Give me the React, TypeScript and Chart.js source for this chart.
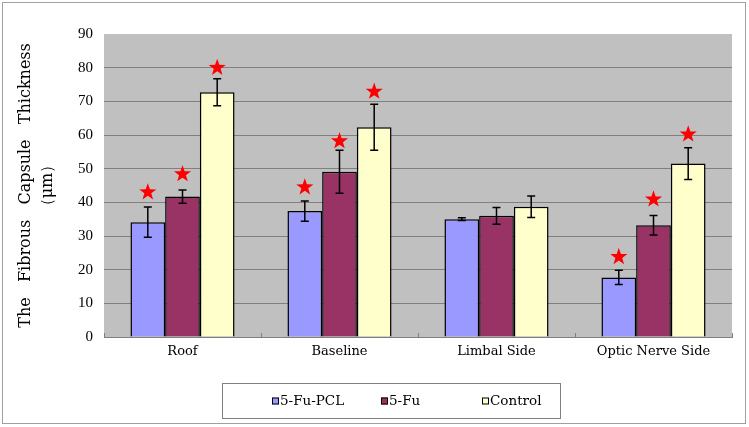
import React, { useEffect, useRef } from 'react';
import { Chart, registerables } from 'chart.js';

Chart.register(...registerables);

const categories = ['Roof', 'Baseline', 'Limbal Side', 'Optic Nerve Side'];
const seriesNames = ['5-Fu-PCL', '5-Fu', 'Control'];
const pclMeans = [34.1, 37.4, 35.0, 17.7];
const pclErrors = [4.5, 3.0, 0.4, 2.1];
const fuMeans = [41.7, 49.1, 36.0, 33.2];
const fuErrors = [2.0, 6.4, 2.5, 2.9];
const controlMeans = [72.7, 62.3, 38.7, 51.5];
const controlErrors = [4.0, 6.8, 3.2, 4.7];
const pclStars = [43.0, 44.5, null, 23.8];
const fuStars = [48.4, 58.2, null, 40.9];
const controlStars = [80.0, 72.9, null, 60.2];
const yMin = 0;
const yMax = 90;
const yStep = 10;
const yTitle = ['The   Fibrous   Capsule   Thickness', '（μm）'];
const seriesColors = ['#9999FF', '#993366', '#FFFFCC'];

const errorsBySeries = [pclErrors, fuErrors, controlErrors];
const starsBySeries = [pclStars, fuStars, controlStars];

function drawStar(ctx: CanvasRenderingContext2D, cx: number, cy: number, r: number) {
  const inner = r * 0.4;
  ctx.beginPath();
  for (let i = 0; i < 10; i++) {
    const rad = i % 2 === 0 ? r : inner;
    const a = -Math.PI / 2 + (i * Math.PI) / 5;
    const x = cx + rad * Math.cos(a);
    const y = cy + rad * Math.sin(a);
    if (i === 0) ctx.moveTo(x, y);
    else ctx.lineTo(x, y);
  }
  ctx.closePath();
  ctx.fillStyle = '#FF0000';
  ctx.fill();
}

const backgroundPlugin = {
  id: 'plotBg',
  beforeDraw(chart: any) {
    const { ctx, chartArea } = chart;
    ctx.save();
    ctx.fillStyle = '#FFFFFF';
    ctx.fillRect(0, 0, chart.width, chart.height);
    ctx.fillStyle = '#C0C0C0';
    ctx.fillRect(chartArea.left, chartArea.top, chartArea.right - chartArea.left, chartArea.bottom - chartArea.top);
    ctx.restore();
  },
};

const errorStarPlugin = {
  id: 'errorStars',
  afterDatasetsDraw(chart: any) {
    const { ctx, chartArea } = chart;
    const yScale = chart.scales.y;
    const xScale = chart.scales.x;
    ctx.save();
    // inside tick marks between categories on the x axis
    ctx.strokeStyle = '#808080';
    ctx.lineWidth = 1;
    ctx.beginPath();
    for (let i = 0; i <= categories.length; i++) {
      const px = Math.round(xScale.getPixelForValue(i - 0.5)) + 0.5;
      ctx.moveTo(px, chartArea.bottom);
      ctx.lineTo(px, chartArea.bottom - 4);
    }
    ctx.stroke();
    chart.data.datasets.forEach((ds: any, i: number) => {
      const meta = chart.getDatasetMeta(i);
      meta.data.forEach((el: any, j: number) => {
        const mean = ds.data[j];
        const err = errorsBySeries[i][j];
        const x = el.x;
        const yTop = yScale.getPixelForValue(mean + err);
        const yBot = yScale.getPixelForValue(mean - err);
        ctx.strokeStyle = '#000000';
        ctx.lineWidth = 1.5;
        ctx.beginPath();
        ctx.moveTo(x, yTop);
        ctx.lineTo(x, yBot);
        ctx.moveTo(x - 4, yTop);
        ctx.lineTo(x + 4, yTop);
        ctx.moveTo(x - 4, yBot);
        ctx.lineTo(x + 4, yBot);
        ctx.stroke();
        const s = starsBySeries[i][j];
        if (s !== null && s !== undefined) {
          drawStar(ctx, x, yScale.getPixelForValue(s), 9);
        }
      });
    });
    ctx.restore();
  },
};

const legendPlugin = {
  id: 'boxLegend',
  afterDraw(chart: any) {
    const { ctx } = chart;
    const boxL = 222;
    const boxT = 383;
    const boxR = 560;
    const boxB = 418;
    ctx.save();
    ctx.strokeStyle = '#808080';
    ctx.lineWidth = 1;
    ctx.strokeRect(boxL + 0.5, boxT + 0.5, boxR - boxL, boxB - boxT);
    const itemX = [272, 381, 482];
    const cy = (boxT + boxB) / 2 + 0.5;
    ctx.font = '13.5px "DejaVu Serif", serif';
    ctx.textBaseline = 'middle';
    ctx.textAlign = 'left';
    chart.data.datasets.forEach((ds: any, i: number) => {
      const x = itemX[i];
      ctx.fillStyle = ds.backgroundColor;
      ctx.fillRect(x, cy - 3.5, 7, 7);
      ctx.strokeStyle = '#000000';
      ctx.lineWidth = 1;
      ctx.strokeRect(x + 0.5, cy - 3.5 + 0.5, 6, 6);
      ctx.fillStyle = '#000000';
      ctx.fillText(ds.label, x + 8, cy);
    });
    // outer frame
    ctx.strokeStyle = '#A0A0A0';
    ctx.strokeRect(2.5, 2.5, 743, 421);
    ctx.restore();
  },
};

export default function App() {
  const canvasRef = useRef<HTMLCanvasElement | null>(null);

  useEffect(() => {
    if (!canvasRef.current) return;
    const meansBySeries = [pclMeans, fuMeans, controlMeans];
    const chart = new Chart(canvasRef.current, {
      type: 'bar',
      data: {
        labels: categories,
        datasets: seriesNames.map((name, i) => ({
          label: name,
          data: meansBySeries[i],
          backgroundColor: seriesColors[i],
          borderColor: '#000000',
          borderWidth: 1.5,
          categoryPercentage: 0.663,
          barPercentage: 1,
        })),
      },
      options: {
        responsive: false,
        animation: false,
        devicePixelRatio: 1,
        layout: { padding: { left: 11, right: 17, top: 34, bottom: 60 } },
        plugins: {
          legend: { display: false },
          tooltip: { enabled: false },
        },
        scales: {
          x: {
            afterFit: (s: any) => {
              s.height = 30;
            },
            grid: {
              display: true,
              drawOnChartArea: false,
              drawTicks: false,
              color: '#808080',
              offset: true,
            },
            border: { display: true, color: '#808080', width: 1 },
            ticks: {
              color: '#000000',
              padding: 7,
              font: { family: '"DejaVu Serif", serif', size: 13 },
              maxRotation: 0,
            },
          },
          y: {
            min: yMin,
            max: yMax,
            afterFit: (s: any) => {
              s.width = 93;
            },
            ticks: {
              stepSize: yStep,
              color: '#000000',
              padding: 11,
              font: { family: '"Liberation Serif", serif', size: 15 },
            },
            grid: {
              drawTicks: false,
              color: (c: any) => (c.tick && c.tick.value === yMax ? 'rgba(0,0,0,0)' : '#808080'),
              lineWidth: 1,
            },
            border: { display: false },
            title: {
              display: true,
              text: yTitle,
              color: '#000000',
              padding: { top: 4, bottom: 0 },
              font: { family: '"DejaVu Serif", serif', size: 16, lineHeight: 22 / 16 },
            },
          },
        },
      },
      plugins: [backgroundPlugin, errorStarPlugin, legendPlugin],
    } as any);
    return () => chart.destroy();
  }, []);

  return (
    <div style={{ position: 'absolute', left: 0, top: 0, width: 749, height: 427 }}>
      <canvas ref={canvasRef} width={749} height={427} style={{ width: 749, height: 427, display: 'block' }} />
    </div>
  );
}
